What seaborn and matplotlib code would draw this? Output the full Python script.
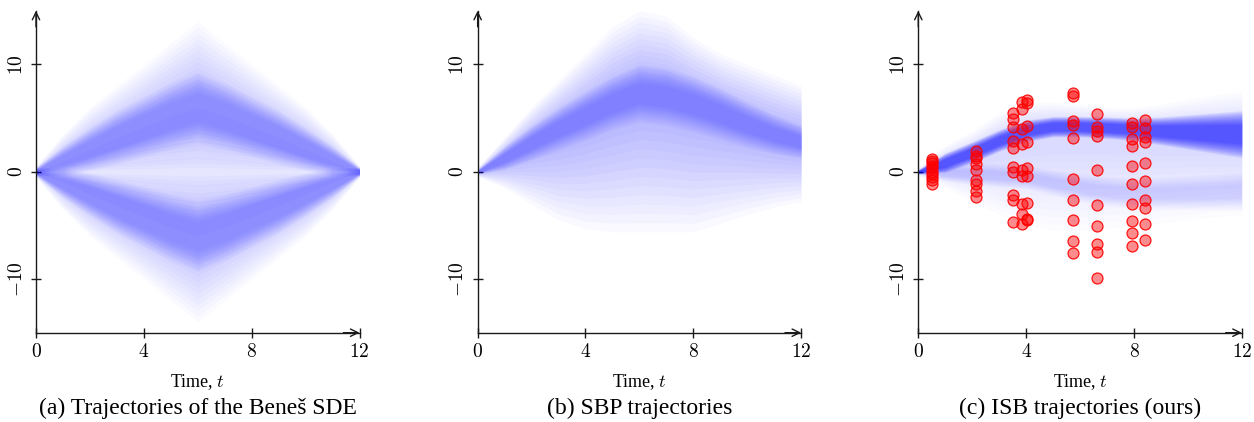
import numpy as np
import pandas as pd
import matplotlib
matplotlib.use("Agg")
import matplotlib.pyplot as plt
import seaborn as sns

t_grid = [0, 1, 2, 3, 4, 5, 6, 7, 8, 9, 10, 11, 12]

# (a) Benes SDE: two mirrored branches inside a diamond-shaped hull
benes_up_mid = [0, 1.0, 2.1, 3.2, 4.2, 5.2, 6.0, 5.2, 4.2, 3.2, 2.1, 1.0, 0]
benes_lo_mid = [0, -1.0, -2.1, -3.2, -4.2, -5.2, -6.0, -5.2, -4.2, -3.2, -2.1, -1.0, 0]
benes_half = [0.4, 1.4, 2.0, 2.5, 2.8, 3.1, 3.3, 3.1, 2.8, 2.5, 2.0, 1.4, 0.4]
benes_hull_top = [0.5, 3.5, 6.0, 8.0, 10.0, 12.0, 14.0, 12.0, 10.0, 8.0, 6.0, 3.5, 0.5]
benes_hull_bot = [-0.5, -3.5, -6.0, -8.0, -10.0, -12.0, -14.0, -12.0, -10.0, -8.0, -6.0, -3.5, -0.5]

# (b) SBP trajectories
sbp_mid = [0, 1.3, 2.7, 4.0, 5.2, 6.4, 7.3, 7.0, 6.3, 5.4, 4.4, 3.5, 2.8]
sbp_half = [0.2, 1.1, 1.6, 2.0, 2.3, 2.5, 2.7, 2.7, 2.6, 2.4, 2.1, 1.8, 1.5]
sbp_hull_top = [0.4, 3.2, 6.0, 8.5, 11.0, 13.5, 15.0, 14.5, 12.5, 11.0, 10.0, 9.0, 8.0]
sbp_hull_bot = [-0.4, -1.5, -3.0, -4.5, -5.3, -5.6, -5.6, -5.6, -5.6, -4.8, -4.0, -3.3, -2.8]

# (c) ISB trajectories: dense main branch, faint lower branch
isb_mid = [0, 0.85, 1.8, 2.9, 3.8, 4.2, 4.2, 4.1, 3.95, 3.8, 3.7, 3.6, 3.5]
isb_half = [0.2, 0.9, 1.0, 1.0, 1.0, 0.95, 0.95, 1.0, 1.05, 1.3, 1.6, 1.9, 2.2]
isb_lo_mid = [0, -0.1, -0.2, -0.35, -0.5, -1.0, -1.45, -1.8, -2.0, -2.0, -1.95, -1.9, -1.8]
isb_lo_half = [0.2, 0.8, 1.0, 1.1, 1.1, 1.2, 1.3, 1.4, 1.4, 1.5, 1.6, 1.7, 1.8]
isb_hull_top = [0.4, 2.5, 3.8, 5.5, 6.5, 6.5, 6.3, 6.0, 6.0, 6.3, 6.8, 7.2, 7.5]
isb_hull_bot = [-0.4, -1.5, -2.8, -4.0, -5.0, -5.5, -5.5, -5.3, -5.0, -4.8, -4.5, -4.2, -4.0]

# observations in (c)
obs_times = [0.5, 2.15, 3.52, 3.83, 4.02, 5.75, 6.62, 7.92, 8.41]
obs_values = [
    [1.2, 1.0, 0.8, 0.5, 0.3, 0.0, -0.2, -0.5, -0.8, -1.1],
    [1.9, 1.5, 1.3, 0.7, 0.15, -0.8, -1.1, -1.8, -2.4],
    [5.45, 4.95, 4.2, 2.87, 2.22, 0.47, 0.0, -2.15, -2.65, -4.69],
    [6.48, 5.8, 3.95, 2.6, 0.2, -0.44, -3.02, -3.92, -4.88],
    [6.7, 6.39, 4.25, 2.8, 0.31, -0.44, -2.95, -4.44, -4.54],
    [7.34, 7.04, 4.72, 4.32, 3.18, -0.68, -2.59, -4.47, -6.45, -7.56],
    [5.34, 4.12, 3.82, 3.33, 0.13, -3.1, -5.09, -6.72, -7.5, -9.88],
    [4.57, 4.2, 3.09, 2.35, 0.49, -1.14, -2.99, -4.63, -5.68, -6.91],
    [4.81, 4.1, 3.26, 2.75, 0.81, -0.83, -2.59, -3.36, -4.9, -6.36],
]

x_ticks = [0, 4, 8, 12]
y_ticks = [-10, 0, 10]
captions = ["(a) Trajectories of the Beneš SDE", "(b) SBP trajectories",
            "(c) ISB trajectories (ours)"]

BLUE = "#0000ff"
INK = "#1a1a1a"
SERIF = ["Liberation Serif", "DejaVu Serif"]

sns.set_theme(style="white")
plt.rcParams["mathtext.fontset"] = "cm"
plt.rcParams["font.family"] = SERIF
for key in ["text.color", "axes.labelcolor", "xtick.color", "ytick.color"]:
    plt.rcParams[key] = "black"


def soft_fill(ax, mid, lo, hi, alpha, layers=12, core=0.0):
    # nested fills shrinking toward mid (down to `core`) -> soft edged band
    mid, lo, hi = np.asarray(mid), np.asarray(lo), np.asarray(hi)
    for f in np.linspace(1.0, core, layers, endpoint=False):
        ax.fill_between(t_grid, mid + f * (lo - mid), mid + f * (hi - mid),
                        color=BLUE, alpha=alpha / layers, lw=0)


def band(ax, mid, half, alpha, core):
    m, h = np.asarray(mid), np.asarray(half)
    soft_fill(ax, m, m - h, m + h, alpha, core=core)


def style_axes(ax):
    ax.set_xlim(0, 12)
    ax.set_ylim(-15, 15)
    for s in ["top", "right"]:
        ax.spines[s].set_visible(False)
    for s in ["left", "bottom"]:
        ax.spines[s].set_color(INK)
        ax.spines[s].set_linewidth(1.0)
    ax.set_xticks(x_ticks)
    ax.set_xticklabels([f"${v}$" for v in x_ticks])
    ax.set_yticks(y_ticks)
    ax.set_yticklabels([f"${v}$" for v in y_ticks], rotation=90, va="center")
    ax.tick_params(direction="inout", length=7, width=1.0, color=INK,
                   labelsize=14, pad=4, left=True, bottom=True)
    arrow = dict(arrowstyle="->,head_length=0.45,head_width=0.22", color=INK,
                 lw=1.0, shrinkA=0, shrinkB=0)
    ax.annotate("", xy=(1.0, 0), xytext=(0.95, 0), xycoords="axes fraction",
                arrowprops=arrow, annotation_clip=False)
    ax.annotate("", xy=(0, 1.0), xytext=(0, 0.95), xycoords="axes fraction",
                arrowprops=arrow, annotation_clip=False)
    ax.set_xlabel("Time, $t$", fontsize=13, labelpad=8)
    ax.set_ylabel("")
    ax.grid(False)


fig = plt.figure(figsize=(12.54, 4.22), dpi=100)
lefts = [0.0287, 0.3809, 0.7323]
axes = [fig.add_axes([l, 0.2116, 0.2580, 0.7630]) for l in lefts]
zeros = [0] * len(t_grid)

# (a)
ax = axes[0]
soft_fill(ax, zeros, benes_lo_mid, benes_up_mid, 0.08, layers=4)
soft_fill(ax, benes_up_mid, zeros, benes_hull_top, 0.22, core=0.2)
soft_fill(ax, benes_lo_mid, benes_hull_bot, zeros, 0.22, core=0.2)
band(ax, benes_up_mid, benes_half, 0.30, core=0.35)
band(ax, benes_lo_mid, benes_half, 0.30, core=0.35)

# (b)
ax = axes[1]
soft_fill(ax, sbp_mid, sbp_hull_bot, sbp_hull_top, 0.30, core=0.2)
band(ax, sbp_mid, sbp_half, 0.35, core=0.3)

# (c)
ax = axes[2]
soft_fill(ax, isb_mid, isb_hull_bot, isb_hull_top, 0.15, core=0.2)
band(ax, isb_lo_mid, isb_lo_half, 0.15, core=0.3)
band(ax, isb_mid, isb_half, 0.85, core=0.35)

obs = pd.DataFrame({
    "t": [t for t, ys in zip(obs_times, obs_values) for _ in ys],
    "y": [y for ys in obs_values for y in ys],
})
sns.scatterplot(data=obs, x="t", y="y", ax=ax, s=62, color="red", zorder=5,
                legend=False)
coll = ax.collections[-1]
coll.set_alpha(None)
coll.set_facecolor((1, 0, 0, 0.45))
coll.set_edgecolor((1, 0, 0, 0.9))
coll.set_linewidth(0.9)

for ax, cap in zip(axes, captions):
    style_axes(ax)
    pos = ax.get_position()
    fig.text(pos.x0 + pos.width / 2, 0.033, cap, ha="center", va="center",
             fontsize=17)

fig.savefig("out.png", dpi=100)
